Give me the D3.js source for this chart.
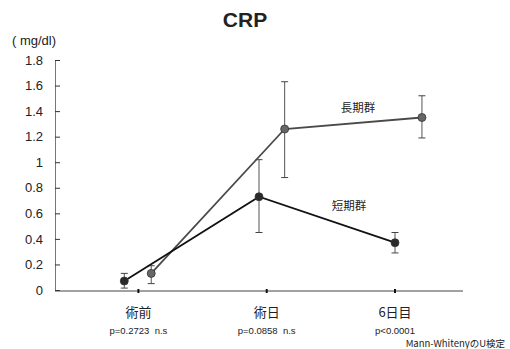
<!DOCTYPE html>
<html>
<head>
<meta charset="utf-8">
<script src="https://cdn.jsdelivr.net/npm/d3@7"></script>
<style>
  body { margin: 0; background: #fff; }
  svg text { font-family: "Liberation Sans", Arial, sans-serif; fill: #222; }
  .jp { font-family: "Noto Sans CJK JP", sans-serif; }
</style>
</head>
<body>
<svg id="chart" width="510" height="349"></svg>
<script>
// categories and annotations
const categories = ["術前", "術日", "6日目"];
const pLabels = ["p=0.2723  n.s", "p=0.0858  n.s", "p<0.0001"];
const yTicks = [0, 0.2, 0.4, 0.6, 0.8, 1, 1.2, 1.4, 1.6, 1.8];

// short-term group (短期群)
const shortX = [-0.11, 0.94, 2.0];
const shortMean = [0.07, 0.73, 0.37];
const shortLow = [0.015, 0.45, 0.29];
const shortHigh = [0.13, 1.02, 0.45];

// long-term group (長期群)
const longX = [0.10, 1.14, 2.21];
const longMean = [0.13, 1.26, 1.35];
const longLow = [0.05, 0.88, 1.19];
const longHigh = [0.19, 1.63, 1.52];

const svg = d3.select("#chart");
const plotLeft = 55, plotRight = 463, plotTop = 60, plotBottom = 290;

const x = d3.scaleLinear().domain([-0.65, 2.53]).range([plotLeft, plotRight]);
const y = d3.scaleLinear().domain([0, 1.8]).range([plotBottom, plotTop]);

// title and unit
svg.append("text").attr("x", 245).attr("y", 27).attr("text-anchor", "middle")
  .style("font-size", "21px").style("font-weight", "bold").text("CRP");
svg.append("text").attr("x", 12).attr("y", 45).style("font-size", "13px")
  .style("white-space", "pre").text("( mg/dl)");

// y axis
const yAxis = svg.append("g").attr("transform", `translate(${plotLeft},0)`)
  .call(d3.axisRight(y).tickValues(yTicks).tickFormat(d => d).tickSize(5));
yAxis.select(".domain").attr("stroke", "#777");
yAxis.selectAll(".tick line").attr("stroke", "#333");
yAxis.selectAll(".tick text").attr("x", -12).attr("text-anchor", "end")
  .style("font-size", "13px").style("font-family", "Liberation Sans, Arial, sans-serif").attr("fill", "#222");

// x axis
svg.append("line").attr("x1", plotLeft).attr("x2", plotRight).attr("y1", plotBottom + 1).attr("y2", plotBottom + 1)
  .attr("stroke", "#444").attr("stroke-width", 1);
const xg = svg.append("g");
xg.selectAll("line.xt").data(categories).enter().append("line")
  .attr("x1", (d, i) => x(i)).attr("x2", (d, i) => x(i))
  .attr("y1", plotBottom - 1).attr("y2", plotBottom + 3).attr("stroke", "#111").attr("stroke-width", 2);
xg.selectAll("text.cat").data(categories).enter().append("text").attr("class", "jp")
  .attr("x", (d, i) => x(i)).attr("y", 317).attr("text-anchor", "middle")
  .style("font-size", "13px").text(d => d);
xg.selectAll("text.p").data(pLabels).enter().append("text")
  .attr("x", (d, i) => x(i)).attr("y", 334).attr("text-anchor", "middle")
  .style("font-size", "9.5px").style("white-space", "pre").text(d => d);
svg.append("text").attr("class", "jp").attr("x", 505).attr("y", 347).attr("text-anchor", "end")
  .style("font-size", "9.5px").text("Mann-WhitenyのU検定");

function drawSeries(xs, mean, low, high, lineColor, dotColor) {
  const pts = xs.map((v, i) => ({ x: v, m: mean[i], lo: low[i], hi: high[i] }));
  const g = svg.append("g");
  g.selectAll("line.err").data(pts).enter().append("line")
    .attr("x1", d => x(d.x)).attr("x2", d => x(d.x))
    .attr("y1", d => y(d.lo)).attr("y2", d => y(d.hi))
    .attr("stroke", "#555").attr("stroke-width", 1);
  ["lo", "hi"].forEach(k => {
    g.selectAll("line.cap" + k).data(pts).enter().append("line")
      .attr("x1", d => x(d.x) - 3.5).attr("x2", d => x(d.x) + 3.5)
      .attr("y1", d => y(d[k])).attr("y2", d => y(d[k]))
      .attr("stroke", "#444").attr("stroke-width", 1);
  });
  g.append("path").datum(pts)
    .attr("d", d3.line().x(d => x(d.x)).y(d => y(d.m)))
    .attr("fill", "none").attr("stroke", lineColor).attr("stroke-width", 1.8);
  g.selectAll("circle").data(pts).enter().append("circle")
    .attr("cx", d => x(d.x)).attr("cy", d => y(d.m)).attr("r", 4)
    .attr("fill", dotColor).attr("stroke", "#333").attr("stroke-width", 0.8);
}

drawSeries(longX, longMean, longLow, longHigh, "#4a4a4a", "#666");
drawSeries(shortX, shortMean, shortLow, shortHigh, "#111", "#2a2a2a");

// series labels
svg.append("text").attr("class", "jp").attr("x", 358).attr("y", 112).attr("text-anchor", "middle")
  .style("font-size", "11.5px").text("長期群");
svg.append("text").attr("class", "jp").attr("x", 349).attr("y", 210).attr("text-anchor", "middle")
  .style("font-size", "11.5px").text("短期群");
</script>
</body>
</html>
